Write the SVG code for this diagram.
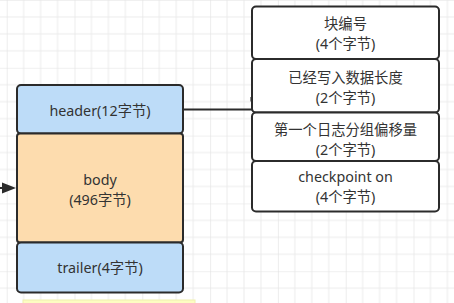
<svg xmlns="http://www.w3.org/2000/svg" width="454" height="303" viewBox="0 0 454 303">
<style>
.t{font-family:"Noto Sans","Noto Sans CJK SC",sans-serif;font-size:14.3px;fill:#333;text-anchor:middle;dominant-baseline:central}
.box{stroke:#2b2b2b;stroke-width:2}
.wb{fill:#fff}
.blue{fill:#bddcf8}
.peach{fill:#fddcae}
.conn{stroke:#2b2b2b;stroke-width:2;fill:none}
</style>
<defs>
<pattern id="g" x="6.7" y="0" width="67.8" height="67.8" patternUnits="userSpaceOnUse">
<path d="M16.95 0V67.8M33.9 0V67.8M50.85 0V67.8M0 16.95H67.8M0 33.9H67.8M0 50.85H67.8" stroke="#ececec" stroke-width="1" fill="none"/>
<path d="M0 0V67.8M0 0H67.8" stroke="#e2e2e2" stroke-width="1.2" fill="none"/>
</pattern>
</defs>
<rect width="454" height="303" fill="#fff"/>
<rect width="454" height="303" fill="url(#g)"/>
<rect x="23" y="300" width="172" height="10" fill="#fdfdc2" stroke="#f0f0b0" stroke-width="1"/>
<g id="connectors">
<path class="conn" d="M183 109.5H252"/>
<path d="M-20 188H6" class="conn"/>
<path d="M2 182.5L16 188L2 193.5Z" fill="#2b2b2b"/>
<path d="M250.5 97V101.5" stroke="#888" stroke-width="1"/>
</g>
<g id="header">
<rect class="box blue" x="17" y="85" width="166" height="48.5" rx="4"/>
<text class="t" x="100" y="110">header(12字节)</text>
</g>
<g id="body">
<rect class="box peach" x="17" y="133.5" width="166" height="109" rx="3"/>
<text class="t" x="100" y="179">body</text>
<text class="t" x="100" y="199">(496字节)</text>
</g>
<g id="trailer">
<rect class="box blue" x="17" y="242.5" width="166" height="50" rx="4"/>
<text class="t" x="100" y="267">trailer(4字节)</text>
</g>
<g id="block-no">
<rect class="box wb" x="252" y="6.5" width="187" height="52.5" rx="4"/>
<text class="t" x="345.5" y="23.5">块编号</text>
<text class="t" x="345.5" y="43.5">(4个字节)</text>
</g>
<g id="written-len">
<rect class="box wb" x="252" y="59" width="187" height="53.5" rx="4"/>
<text class="t" x="345.5" y="77">已经写入数据长度</text>
<text class="t" x="345.5" y="97">(2个字节)</text>
</g>
<g id="first-group-offset">
<rect class="box wb" x="252" y="112.5" width="187" height="48.5" rx="4"/>
<text class="t" x="345.5" y="129.5">第一个日志分组偏移量</text>
<text class="t" x="345.5" y="149.5">(2个字节)</text>
</g>
<g id="checkpoint-on">
<rect class="box wb" x="252" y="161" width="187" height="50.5" rx="4"/>
<text class="t" x="345.5" y="176.5">checkpoint on</text>
<text class="t" x="345.5" y="196.5">(4个字节)</text>
</g>
</svg>
